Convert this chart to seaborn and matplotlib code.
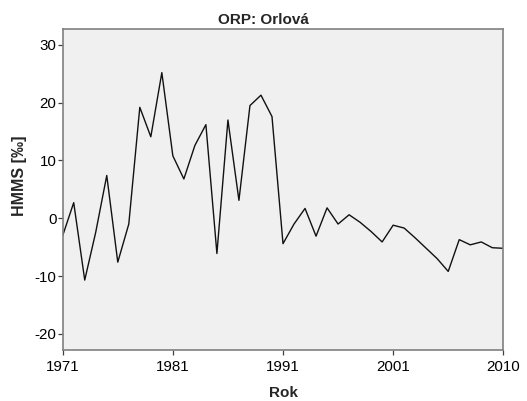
import matplotlib
matplotlib.use("Agg")
import matplotlib.pyplot as plt
import seaborn as sns
import pandas as pd

years = list(range(1971, 2012))
hmms = [-3.0, 2.7, -10.7, -2.4, 7.4, -7.6, -1.0, 19.2, 14.1, 25.2,
        10.8, 6.8, 12.6, 16.2, -6.1, 17.0, 3.1, 19.5, 21.3, 17.6,
        -4.4, -1.0, 1.7, -3.1, 1.8, -1.0, 0.6, -0.7, -2.3, -4.1,
        -1.2, -1.7, -3.4, -5.2, -7.0, -9.2, -3.7, -4.6, -4.1, -5.1,
        -5.2]
xtick_pos = [1971, 1981, 1991, 2001, 2011]
xtick_labels = ["1971", "1981", "1991", "2001", "2010"]
ytick_vals = [-20, -10, 0, 10, 20, 30]
title = "ORP: Orlová"
xlabel = "Rok"
ylabel = "HMMS [‰]"

sns.set_style("white")
plt.rcParams['font.family'] = ['Liberation Sans', 'DejaVu Sans']

df = pd.DataFrame({"Rok": years, "HMMS": hmms})

fig = plt.figure(figsize=(5.27, 4.01), dpi=100)
ax = fig.add_axes([62.7/527, 1 - 350/401, (503.3 - 62.7)/527, (350 - 29.3)/401])
ax.set_facecolor("#f0f0f0")

sns.lineplot(data=df, x="Rok", y="HMMS", ax=ax, color="#111111", linewidth=1.0)

ax.set_xlim(1971, 2011)
ax.set_ylim(-22.8, 32.7)
ax.set_xticks(xtick_pos)
ax.set_xticklabels(xtick_labels)
ax.set_yticks(ytick_vals)
ax.set_yticklabels([str(v) for v in ytick_vals])

for s in ax.spines.values():
    s.set_color("#808080")
    s.set_linewidth(1.2)

ax.tick_params(axis="both", which="major", direction="out", length=3.5, width=0.9,
               color="#404040", labelsize=10.9, labelcolor="#000000", bottom=True, left=True)
ax.tick_params(axis="x", pad=4)
ax.tick_params(axis="y", pad=1)

ax.set_xlabel("")
ax.set_ylabel("")
fig.text(283/527, 1 - 397/401, xlabel, ha="center", va="baseline", fontsize=11, fontweight="bold")
fig.text(19.5/527, 1 - 176/401, ylabel, ha="center", va="center", rotation=90,
         fontsize=11.5, fontweight="bold")
fig.text(0.5, 1 - 23.5/401, title, ha="center", va="baseline", fontsize=11, fontweight="bold")

fig.savefig("out.png", dpi=100, facecolor="white")
